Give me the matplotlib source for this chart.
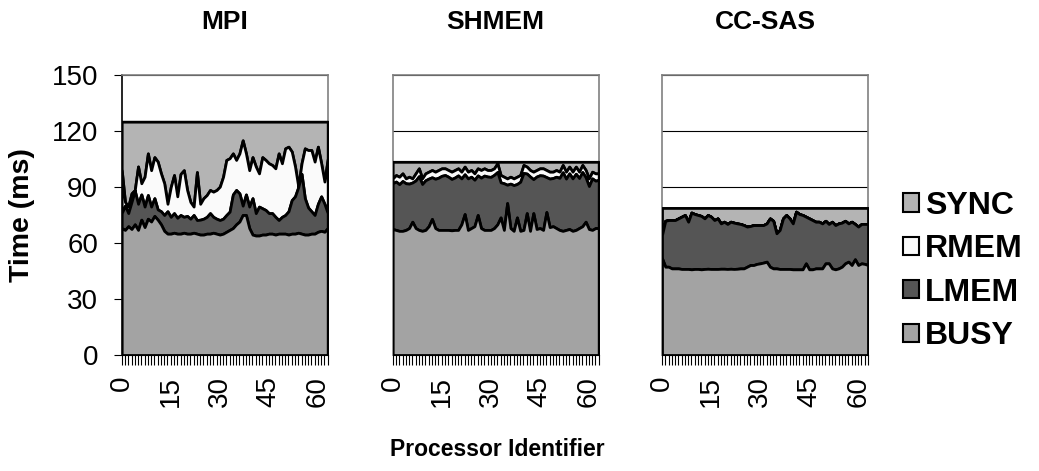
import matplotlib
matplotlib.use("Agg")
import matplotlib.pyplot as plt
from matplotlib.patches import Patch
import numpy as np

plt.rcParams['font.family'] = ['Liberation Sans', 'DejaVu Sans']

procs = np.arange(64)

# MPI: cumulative levels (top of BUSY, top of LMEM, top of RMEM), total = top of SYNC
mpi_busy_top = [68, 67, 69, 67.5, 70, 67, 72.5, 68.5, 73, 71.5, 74.5, 72.5, 70, 66.5, 65, 65,
                65.5, 65, 65, 65.5, 65, 65, 65.5, 65, 64.5, 64.5, 65, 65, 65.5, 65, 64.5, 65,
                66, 67, 68, 70, 71.5, 75, 75, 68, 64.5, 64, 64, 64.5, 64.5, 65, 65, 64.5,
                65, 65, 65, 64.5, 65, 65, 65.5, 65, 64.5, 64.5, 65, 65, 66, 66.5, 66, 68]
mpi_lmem_top = [76, 80, 76, 82, 88, 81, 86, 79.5, 85.7, 79.5, 84, 78, 77, 75, 77, 74,
                76, 73.5, 75, 74, 74.5, 73, 75, 72.3, 72.5, 73, 74, 76, 74, 73, 72.3, 73,
                75, 76.8, 86, 88.4, 86.6, 80, 86, 79.5, 84, 76, 79.5, 78.6, 77.7, 76, 76, 74,
                72.3, 74, 75, 77, 83, 85, 90, 97, 84, 79, 77, 75, 81, 85, 81, 76]
mpi_rmem_top = [99, 82, 79.5, 86.6, 88.4, 101, 92, 95.5, 108, 99, 106, 103.6, 97.3, 92, 81, 90,
                96.4, 85, 97, 99, 88.4, 82, 79.5, 98, 81, 84, 85.7, 88.4, 87.5, 88.4, 90.2, 95.5,
                104.5, 105.4, 108, 104.5, 108, 115, 108, 99, 106, 101, 97.3, 106, 104.5, 102.7, 101.8, 100,
                108, 102.7, 110.7, 111.6, 109, 101, 90.2, 102.7, 110.7, 109.8, 109.8, 103.6, 111.6, 102.7, 92.9, 105]
mpi_total = 125

# SHMEM
shmem_busy_top = [67.5, 67, 66.5, 66.5, 67, 68, 71.4, 68, 67, 66.5, 67, 69, 72.9, 68, 67, 67,
                  67, 67, 66.8, 67, 67, 70, 75.5, 67, 68, 69, 75, 68, 67, 67, 67, 68,
                  70, 73.7, 67, 81.4, 68, 66.5, 73.7, 66.5, 67, 76, 66.5, 76, 67.5, 68, 67, 76.6,
                  68.5, 69, 68, 67, 66.5, 67, 67.5, 66.5, 67, 68, 69, 71.4, 67.5, 67, 68, 68]
shmem_lmem_top = [92.0, 92.9, 91.5, 93.2, 92.0, 91.8, 92.4, 93.5, 95.8, 91.6, 93.6, 94.5, 95.2, 94.4, 95.0, 96.0,
                  96.4, 95.5, 94.3, 95.1, 96.2, 94.6, 96.8, 94.6, 95.5, 93.9, 96.2, 95.0, 96.1, 95.6, 95.4, 96.5,
                  98.0, 92.5, 92.0, 91.2, 91.8, 91.0, 91.6, 92.8, 97.5, 97.2, 95.6, 94.2, 95.6, 96.3, 96.1, 95.3,
                  94.5, 94.8, 95.5, 94.9, 97.9, 94.5, 97.3, 94.6, 97.1, 94.8, 98.0, 95.2, 90.5, 94.6, 93.4, 93.8]
shmem_rmem_top = [94.6, 96.4, 95.5, 97.3, 94.6, 95.5, 94.6, 97.3, 100, 94.6, 97.3, 98.2, 99.1, 98.2, 99.1, 100,
                  100, 99.1, 98.2, 99.1, 100, 98.2, 100.9, 98.2, 99.1, 97.3, 100, 99.1, 100, 99.1, 99.1, 100,
                  102.7, 96.4, 95.5, 94.6, 95.5, 94.6, 95.5, 96.4, 101.8, 100.9, 99.1, 98.2, 99.1, 100, 100, 99.1,
                  98.2, 98.2, 99.1, 98.2, 101.8, 98.2, 100.9, 98.2, 100.9, 98.2, 101.8, 99.1, 94.6, 98.2, 97.3, 97.3]
shmem_total = 103.5

# CC-SAS (no remote memory time)
ccsas_busy_top = [51.8, 47.3, 47.3, 46.4, 46.4, 46.4, 46.1, 46.1, 46.1, 45.9, 46.1, 46.1, 45.9, 46.1, 46.2, 46.1,
                  46.1, 46.1, 46.2, 46.2, 46.1, 46.2, 46.1, 46.2, 46.4, 46.4, 47.3, 48.2, 48.2, 48.8, 49.1, 49.5,
                  50, 47.3, 46.4, 46.4, 46.1, 46.1, 46.1, 46.1, 45.9, 45.9, 45.9, 45.9, 49.1, 45.9, 45.9, 46.4,
                  46.4, 46.4, 49.1, 49.1, 46.4, 45.9, 46.4, 47.3, 49.1, 50, 48.2, 51.3, 48.2, 49.1, 48.8, 48.2]
ccsas_lmem_top = [64.3, 71.9, 72.3, 72.3, 72.3, 73.2, 74.1, 75, 71.4, 76.3, 75.5, 75, 74.5, 73.2, 75, 74.1,
                  72.3, 73.2, 70.5, 71.4, 70.2, 71.4, 70.9, 70.5, 70.2, 69.6, 68.8, 69.1, 69.6, 69.6, 69.6, 69.6,
                  70.5, 73.2, 71.9, 65.2, 67, 73.2, 75, 73.2, 70.5, 76.8, 75.5, 75, 74.1, 73.2, 72.3, 71.4,
                  71.4, 70.5, 71.9, 70.2, 71.4, 69.6, 70.5, 70.9, 71.9, 70.5, 71.4, 70.2, 68.8, 70.2, 70.2, 70.2]
ccsas_rmem_top = ccsas_lmem_top
ccsas_total = 78.8

titles = ['MPI', 'SHMEM', 'CC-SAS']
series = ['SYNC', 'RMEM', 'LMEM', 'BUSY']
colors = {'SYNC': '#b4b4b4', 'RMEM': '#fafafa', 'LMEM': '#555555', 'BUSY': '#a3a3a3'}
yticks = [0, 30, 60, 90, 120, 150]
xticks = [0, 15, 30, 45, 60]

panels = [
    (mpi_busy_top, mpi_lmem_top, mpi_rmem_top, mpi_total),
    (shmem_busy_top, shmem_lmem_top, shmem_rmem_top, shmem_total),
    (ccsas_busy_top, ccsas_lmem_top, ccsas_rmem_top, ccsas_total),
]

W, H = 1039, 471
fig = plt.figure(figsize=(W / 100, H / 100), dpi=100)

lefts = [121.7, 392.7, 662]
aw = 206
top_px, bot_px = 75, 355

for k, (busy, lmem, rmem, total) in enumerate(panels):
    ax = fig.add_axes([lefts[k] / W, (H - bot_px) / H, aw / W, (bot_px - top_px) / H])
    tot = np.full(len(procs), total)
    kw = dict(edgecolor='black', linewidth=2.0, zorder=3)
    ax.fill_between(procs, rmem, tot, facecolor=colors['SYNC'], **kw)
    ax.fill_between(procs, lmem, rmem, facecolor=colors['RMEM'], **kw)
    ax.fill_between(procs, busy, lmem, facecolor=colors['LMEM'], **kw)
    ax.fill_between(procs, 0, busy, facecolor=colors['BUSY'], **kw)

    ax.set_xlim(0, 63)
    ax.set_ylim(0, 150)
    ax.set_yticks(yticks)
    ax.yaxis.grid(True, color='black', linewidth=0.8)
    ax.set_axisbelow(True)

    ax.set_xticks(xticks)
    ax.set_xticks(procs, minor=True)
    ax.set_xticklabels([str(t) for t in xticks], rotation=90, fontsize=20)
    ax.tick_params(axis='x', which='both', length=7, width=0.8, pad=8, direction='out')

    for s in ['top', 'right', 'left']:
        ax.spines[s].set_color('#808080')
        ax.spines[s].set_linewidth(1.2)
    ax.spines['bottom'].set_color('black')

    if k == 0:
        ax.spines['left'].set_color('black')
        ax.tick_params(axis='y', length=6, width=0.8, pad=11, labelsize=20)
    else:
        ax.tick_params(axis='y', length=0, labelleft=False)

    fig.text((lefts[k] + aw / 2) / W, 1 - 22 / H, titles[k], ha='center', va='center',
             fontsize=19, fontweight='bold')

fig.text(22 / W, 1 - 215 / H, 'Time (ms)', rotation=90, ha='center', va='center',
         fontsize=20.5, fontweight='bold')
fig.text(497 / W, 1 - 450 / H, 'Processor Identifier', ha='center', va='center',
         fontsize=16.5, fontweight='bold')

handles = [Patch(facecolor=colors[s], edgecolor='black', linewidth=1.5) for s in series]
fig.legend(handles, series, loc='center left', bbox_to_anchor=(903 / W, 1 - 271 / H),
           frameon=False, prop={'weight': 'bold', 'size': 23}, handlelength=0.5,
           handleheight=0.5, handletextpad=0.2, labelspacing=0.42, borderpad=0,
           borderaxespad=0)

fig.savefig('out.png', dpi=100)
